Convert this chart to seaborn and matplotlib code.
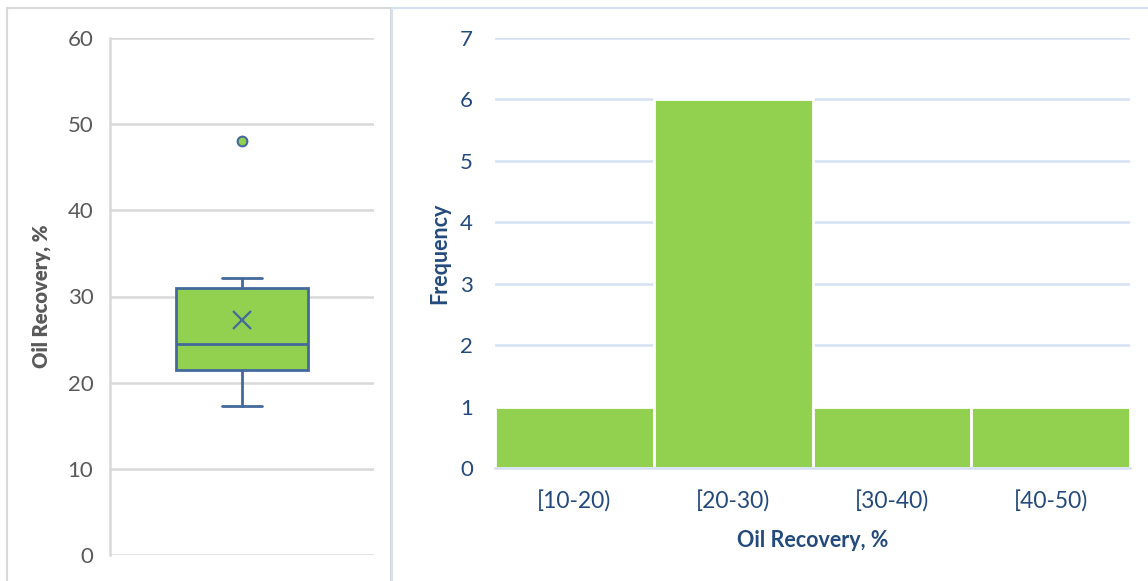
import numpy as np
import pandas as pd
import matplotlib
matplotlib.use("Agg")
import matplotlib.pyplot as plt
from matplotlib.patches import Rectangle
import seaborn as sns

# Oil recovery of the nine runs (%)
oil_recovery = [17.3, 20.5, 22.5, 23.5, 24.5, 27.4, 29.9, 32.1, 48.0]
bin_edges = [10, 20, 30, 40, 50]
bin_labels = ["[10-20)", "[20-30)", "[30-40)", "[40-50)"]
box_ticks = [0, 10, 20, 30, 40, 50, 60]
freq_ticks = [0, 1, 2, 3, 4, 5, 6, 7]

green = "#92d050"
box_blue = "#44699c"
gray_text = "#595959"
navy = "#244a7c"

sns.set_theme(style="white")
plt.rcParams["font.family"] = ["Lato", "DejaVu Sans"]

df = pd.DataFrame({"OilRecovery": oil_recovery})

fig = plt.figure(figsize=(11.48, 5.81), dpi=100)

# panel frames like the Excel chart areas
fig.add_artist(Rectangle((7 / 1148, -0.05), (391 - 7) / 1148, 1.05 - 8 / 581,
                         transform=fig.transFigure, fill=False,
                         edgecolor="#d9d9d9", lw=1.5, clip_on=False))
fig.add_artist(Rectangle((392 / 1148, -0.05), 1.0, 1.05 - 8 / 581,
                         transform=fig.transFigure, fill=False,
                         edgecolor="#d5e1f2", lw=1.5, clip_on=False))

# ---- left: box and whisker (Excel exclusive quartiles) ----
ax1 = fig.add_axes([110 / 1148, 1 - 555 / 581, 264 / 1148, (555 - 38) / 581])
vals = df["OilRecovery"].to_numpy()
q1, med, q3 = np.percentile(vals, [25, 50, 75], method="weibull")
iqr = q3 - q1
inside = vals[(vals >= q1 - 1.5 * iqr) & (vals <= q3 + 1.5 * iqr)]
stats = [{
    "med": med, "q1": q1, "q3": q3,
    "whislo": inside.min(), "whishi": inside.max(),
    "mean": vals.mean(),
    "fliers": vals[(vals < q1 - 1.5 * iqr) | (vals > q3 + 1.5 * iqr)],
}]
ax1.bxp(stats, positions=[0], widths=0.5, capwidths=[0.15],
        showmeans=True, patch_artist=True,
        boxprops=dict(facecolor=green, edgecolor=box_blue, lw=2),
        medianprops=dict(color=box_blue, lw=2),
        whiskerprops=dict(color=box_blue, lw=2),
        capprops=dict(color=box_blue, lw=2),
        meanprops=dict(marker="x", markeredgecolor=box_blue, markersize=13, mew=1.6),
        flierprops=dict(marker="o", markerfacecolor=green, markeredgecolor=box_blue,
                        markersize=7, mew=1.5))
ax1.set_xlim(-0.5, 0.5)
ax1.set_ylim(0, 60)
ax1.set_yticks(box_ticks)
ax1.set_xticks([])
ax1.yaxis.grid(True, color="#d9d9d9", lw=1.8)
ax1.set_axisbelow(True)
for s in ["top", "right", "bottom"]:
    ax1.spines[s].set_visible(False)
ax1.spines["left"].set_color("#d9d9d9")
ax1.spines["left"].set_linewidth(1.8)
ax1.tick_params(axis="y", length=0, pad=12, labelsize=16, labelcolor=gray_text)
ax1.set_ylabel("Oil Recovery, %", fontsize=14.5, fontweight="heavy", color=gray_text, labelpad=12)

# ---- right: histogram ----
ax2 = fig.add_axes([495 / 1148, 1 - 468 / 581, (1130 - 495) / 1148, (468 - 38) / 581])
sns.histplot(data=df, x="OilRecovery", bins=bin_edges, color=green, alpha=1,
             edgecolor="white", linewidth=2, ax=ax2)
ax2.set_xlim(10, 50)
ax2.set_ylim(0, 7)
ax2.set_yticks(freq_ticks)
ax2.set_xticks([(a + b) / 2 for a, b in zip(bin_edges[:-1], bin_edges[1:])])
ax2.set_xticklabels(bin_labels)
ax2.yaxis.grid(True, color="#d5e1f2", lw=1.8)
ax2.set_axisbelow(True)
for s in ["top", "right", "left"]:
    ax2.spines[s].set_visible(False)
ax2.spines["bottom"].set_color("#d5e1f2")
ax2.spines["bottom"].set_linewidth(1.8)
ax2.tick_params(axis="y", length=0, pad=16, labelsize=16, labelcolor=navy)
ax2.tick_params(axis="x", length=0, pad=16, labelsize=16.5, labelcolor=navy)
ax2.set_ylabel("Frequency", fontsize=15.5, fontweight="bold", color=navy, labelpad=7)
ax2.set_xlabel("Oil Recovery, %", fontsize=15.5, fontweight="bold", color=navy, labelpad=13)

fig.savefig("out.png", dpi=100)
